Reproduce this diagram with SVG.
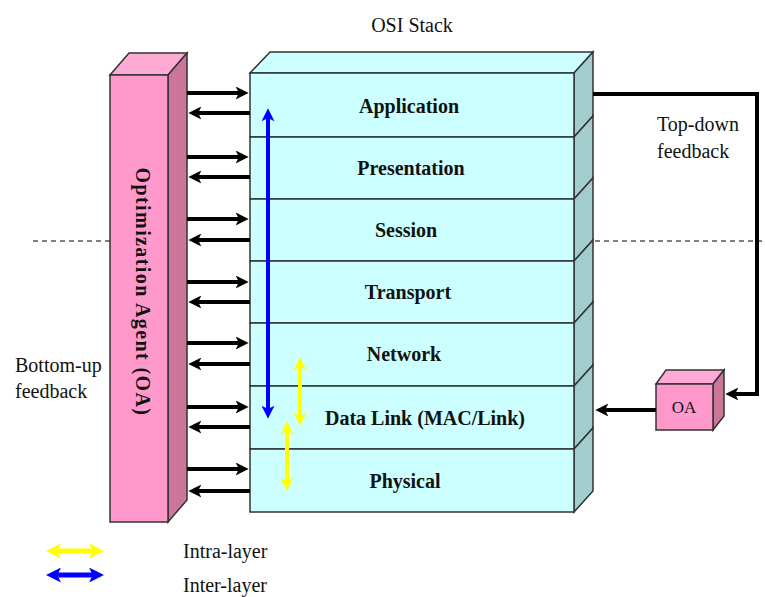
<svg xmlns="http://www.w3.org/2000/svg" width="765" height="597" viewBox="0 0 765 597">
<style>
.t{font-family:"Liberation Serif","Times New Roman",serif;fill:#111}
.lbl{font-size:20px;font-weight:bold;text-anchor:middle}
.reg{font-size:20px}
.front{fill:#ccffff;stroke:#333;stroke-width:1.5}
.side{fill:#a3cccc;stroke:#333;stroke-width:1.5}
.blk{stroke:#000;stroke-width:4;fill:none}
</style>
<defs>
<marker id="ab" viewBox="0 0 12 12" markerWidth="13" markerHeight="13" markerUnits="userSpaceOnUse" refX="4" refY="6" orient="auto-start-reverse"><path d="M0,0 L12,6 L0,12 L3,6 z" fill="#000"/></marker>
<marker id="au" viewBox="0 0 12 12" markerWidth="13" markerHeight="13" markerUnits="userSpaceOnUse" refX="4" refY="6" orient="auto-start-reverse"><path d="M0,0 L12,6 L0,12 L3,6 z" fill="#0000ff"/></marker>
<marker id="ay" viewBox="0 0 12 12" markerWidth="13" markerHeight="13" markerUnits="userSpaceOnUse" refX="4" refY="6" orient="auto-start-reverse"><path d="M0,0 L12,6 L0,12 L3,6 z" fill="#ffff00"/></marker>
<marker id="auL" viewBox="0 0 12 12" markerWidth="15" markerHeight="15" markerUnits="userSpaceOnUse" refX="4" refY="6" orient="auto-start-reverse"><path d="M0,0 L12,6 L0,12 L3,6 z" fill="#0000ff"/></marker>
<marker id="ayL" viewBox="0 0 12 12" markerWidth="15" markerHeight="15" markerUnits="userSpaceOnUse" refX="4" refY="6" orient="auto-start-reverse"><path d="M0,0 L12,6 L0,12 L3,6 z" fill="#ffff00"/></marker>
</defs>
<rect width="765" height="597" fill="#fff"/>
<g id="dashes" stroke="#000" stroke-width="1" stroke-dasharray="5,4">
<line x1="33" y1="241" x2="110" y2="241"/>
<line x1="595" y1="241" x2="765" y2="241"/>
</g>
<text class="t reg" x="412" y="32" text-anchor="middle">OSI Stack</text>
<g id="oa-agent">
<polygon points="110,75 129,53 187,53 168,75" fill="#ffaad4" stroke="#333" stroke-width="1.5"/>
<polygon points="168,75 187,53 187,500 168,522" fill="#cc7799" stroke="#333" stroke-width="1.5"/>
<rect x="110" y="75" width="58" height="447" fill="#ff99cc" stroke="#333" stroke-width="1.5"/>
<text class="t" transform="translate(136,292) rotate(90)" text-anchor="middle" font-size="20" font-weight="bold" letter-spacing="1.4">Optimization Agent (OA)</text>
</g>
<g id="osi-stack">
<polygon points="250,73 270,52 593,52 574,73" class="front"/>
<g id="layer-application"><polygon class="side" points="574,73 593,52 593,116 574,137"/><rect class="front" x="250" y="73" width="324" height="64"/><text class="t lbl" x="409" y="113">Application</text></g>
<g id="layer-presentation"><polygon class="side" points="574,137 593,116 593,178 574,199"/><rect class="front" x="250" y="137" width="324" height="62"/><text class="t lbl" x="411" y="175">Presentation</text></g>
<g id="layer-session"><polygon class="side" points="574,199 593,178 593,240 574,261"/><rect class="front" x="250" y="199" width="324" height="62"/><text class="t lbl" x="406" y="237">Session</text></g>
<g id="layer-transport"><polygon class="side" points="574,261 593,240 593,302 574,323"/><rect class="front" x="250" y="261" width="324" height="62"/><text class="t lbl" x="408" y="299">Transport</text></g>
<g id="layer-network"><polygon class="side" points="574,323 593,302 593,365 574,386"/><rect class="front" x="250" y="323" width="324" height="63"/><text class="t lbl" x="404" y="361">Network</text></g>
<g id="layer-datalink"><polygon class="side" points="574,386 593,365 593,428 574,449"/><rect class="front" x="250" y="386" width="324" height="63"/><text class="t lbl" x="425" y="425">Data Link (MAC/Link)</text></g>
<g id="layer-physical"><polygon class="side" points="574,449 593,428 593,491 574,512"/><rect class="front" x="250" y="449" width="324" height="63"/><text class="t lbl" x="405" y="488">Physical</text></g>
</g>
<g id="oa-small">
<polygon points="656,384 666,370 724,370 713,384" fill="#ffaad4" stroke="#333" stroke-width="1.5"/>
<polygon points="713,384 724,370 724,416 713,430" fill="#cc7799" stroke="#333" stroke-width="1.5"/>
<rect x="656" y="384" width="57" height="46" fill="#ff99cc" stroke="#333" stroke-width="1.5"/>
<text class="t" x="684" y="413" text-anchor="middle" font-size="17">OA</text>
</g>
<g id="connectors">
<line class="blk" x1="187" y1="93" x2="240" y2="93" marker-end="url(#ab)"/>
<line class="blk" x1="250" y1="113" x2="197" y2="113" marker-end="url(#ab)"/>
<line class="blk" x1="187" y1="157" x2="240" y2="157" marker-end="url(#ab)"/>
<line class="blk" x1="250" y1="177" x2="197" y2="177" marker-end="url(#ab)"/>
<line class="blk" x1="187" y1="219" x2="240" y2="219" marker-end="url(#ab)"/>
<line class="blk" x1="250" y1="240" x2="197" y2="240" marker-end="url(#ab)"/>
<line class="blk" x1="187" y1="282" x2="240" y2="282" marker-end="url(#ab)"/>
<line class="blk" x1="250" y1="302" x2="197" y2="302" marker-end="url(#ab)"/>
<line class="blk" x1="187" y1="343" x2="240" y2="343" marker-end="url(#ab)"/>
<line class="blk" x1="250" y1="364" x2="197" y2="364" marker-end="url(#ab)"/>
<line class="blk" x1="187" y1="407" x2="240" y2="407" marker-end="url(#ab)"/>
<line class="blk" x1="250" y1="427" x2="197" y2="427" marker-end="url(#ab)"/>
<line class="blk" x1="187" y1="469" x2="240" y2="469" marker-end="url(#ab)"/>
<line class="blk" x1="250" y1="491" x2="197" y2="491" marker-end="url(#ab)"/>
<line x1="268" y1="117" x2="268" y2="410" stroke="#0000ff" stroke-width="4" marker-start="url(#au)" marker-end="url(#au)"/>
<line x1="300" y1="366" x2="300" y2="417" stroke="#ffff00" stroke-width="4" marker-start="url(#ay)" marker-end="url(#ay)"/>
<line x1="287" y1="430" x2="287" y2="482" stroke="#ffff00" stroke-width="4" marker-start="url(#ay)" marker-end="url(#ay)"/>
<polyline class="blk" points="593,94 757,94 757,394 734,394" marker-end="url(#ab)"/>
<line class="blk" x1="656" y1="410" x2="604" y2="410" marker-end="url(#ab)"/>
</g>
<text class="t reg" x="657" y="131">Top-down</text>
<text class="t reg" x="657" y="158">feedback</text>
<text class="t reg" x="15" y="372">Bottom-up</text>
<text class="t reg" x="15" y="398">feedback</text>
<g id="legend">
<line x1="56" y1="551" x2="94" y2="551" stroke="#ffff00" stroke-width="5" marker-start="url(#ayL)" marker-end="url(#ayL)"/>
<line x1="56" y1="575" x2="94" y2="575" stroke="#0000ff" stroke-width="5" marker-start="url(#auL)" marker-end="url(#auL)"/>
<text class="t reg" x="183" y="558">Intra-layer</text>
<text class="t reg" x="183" y="592">Inter-layer</text>
</g>
</svg>
